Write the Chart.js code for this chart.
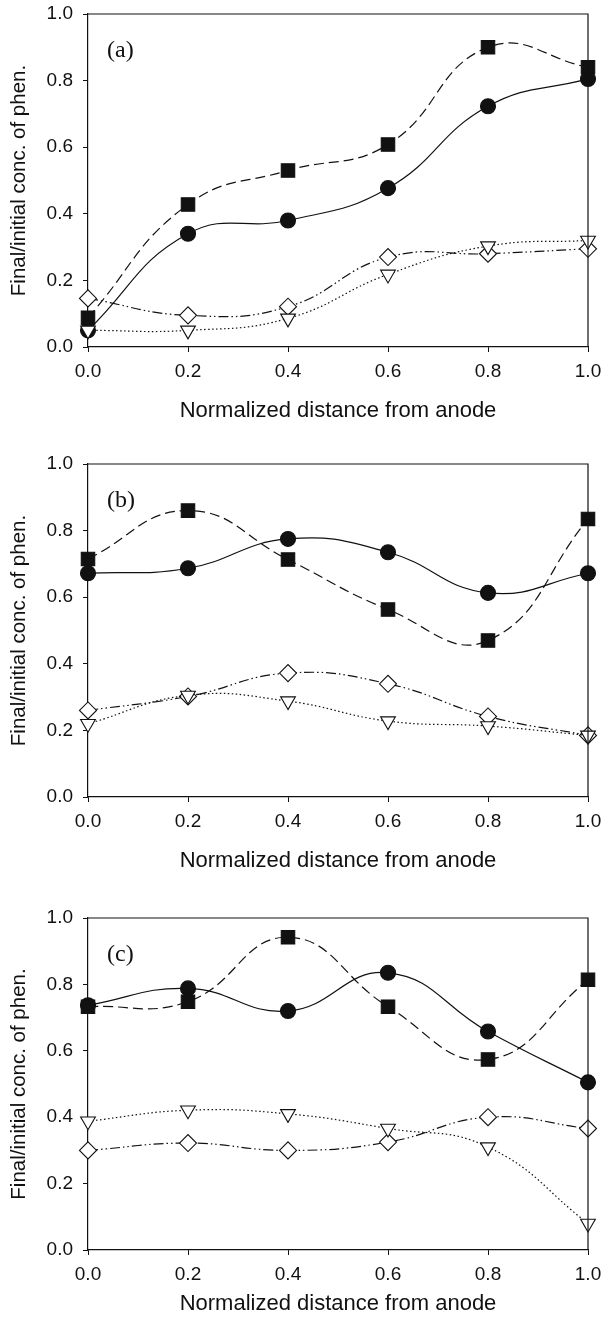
<!DOCTYPE html>
<html>
<head>
<meta charset="utf-8">
<script src="https://cdn.jsdelivr.net/npm/chart.js@4.4.0/dist/chart.umd.min.js"></script>
<style>
  body { margin: 0; background: #fff; width: 602px; height: 1326px; position: relative; overflow: hidden; }
  .panel { position: absolute; left: 0; width: 602px; }
</style>
</head>
<body>
<div class="panel" style="top:0px"><canvas id="chartA" width="602" height="440"></canvas></div>
<div class="panel" style="top:450px"><canvas id="chartB" width="602" height="440"></canvas></div>
<div class="panel" style="top:904px"><canvas id="chartC" width="602" height="422"></canvas></div>
<script>
// normalized distance from anode
const distance = [0, 0.2, 0.4, 0.6, 0.8, 1.0];
const tickValues = [0, 0.2, 0.4, 0.6, 0.8, 1.0];
const tickLabels = ['0.0', '0.2', '0.4', '0.6', '0.8', '1.0'];

// panel (a)
const circlesA   = [0.05, 0.34, 0.38, 0.477, 0.723, 0.805];
const squaresA   = [0.088, 0.428, 0.53, 0.608, 0.90, 0.84];
const diamondsA  = [0.146, 0.095, 0.121, 0.27, 0.28, 0.295];
const trianglesA = [0.05, 0.05, 0.086, 0.218, 0.303, 0.32];

// panel (b)
const circlesB   = [0.672, 0.687, 0.775, 0.735, 0.613, 0.672];
const squaresB   = [0.715, 0.86, 0.713, 0.563, 0.47, 0.835];
const diamondsB  = [0.26, 0.302, 0.372, 0.34, 0.242, 0.185];
const trianglesB = [0.22, 0.305, 0.288, 0.228, 0.213, 0.185];

// panel (c)
const circlesC   = [0.737, 0.788, 0.72, 0.835, 0.658, 0.505];
const squaresC   = [0.733, 0.748, 0.942, 0.733, 0.574, 0.814];
const diamondsC  = [0.30, 0.322, 0.30, 0.325, 0.40, 0.366];
const trianglesC = [0.388, 0.421, 0.41, 0.366, 0.31, 0.08];

const ink = '#111';

function toPoints(values){
    return values.map((v, i) => ({x: distance[i], y: v}));
}

// top + right frame and panel letter
const framePlugin = {
    id: 'frame',
    afterDraw(chart, args, opts){
        const a = chart.chartArea;
        const ctx = chart.ctx;
        ctx.save();
        ctx.strokeStyle = ink;
        ctx.lineWidth = 1.2;
        ctx.beginPath();
        ctx.moveTo(a.left, a.top);
        ctx.lineTo(a.right, a.top);
        ctx.lineTo(a.right, a.bottom);
        ctx.stroke();
        ctx.fillStyle = ink;
        ctx.font = '24px "Liberation Serif"';
        ctx.textBaseline = 'middle';
        ctx.fillText(opts.label, a.left + 19, a.top + 37);
        ctx.restore();
    }
};

function dataset(values, style, radius, fill, dash, order){
    return {
        data: toPoints(values),
        borderColor: ink,
        borderWidth: 1.2,
        borderDash: dash,
        tension: 0.45,
        pointStyle: style,
        pointRadius: radius,
        pointRotation: style === 'triangle' ? 180 : 0,
        pointBackgroundColor: fill,
        pointBorderColor: ink,
        pointBorderWidth: 1.1,
        clip: false,
        order: order
    };
}

function makePanel(id, label, circles, squares, diamonds, triangles, xAxisHeight, bottomPad){
    const config = {
        type: 'line',
        data: {
            datasets: [
                dataset(circles, 'circle', 7.5, ink, [], 3),
                dataset(squares, 'rect', 9.5, ink, [10, 5], 2),
                dataset(diamonds, 'rectRot', 8.5, '#fff', [10, 3, 1.5, 3, 1.5, 3], 1),
                dataset(triangles, 'triangle', 8.5, '#fff', [1.5, 2.5], 0)
            ]
        },
        options: {
            responsive: false,
            animation: false,
            layout: { padding: { top: 14, right: 14, left: 7, bottom: bottomPad } },
            plugins: {
                legend: { display: false },
                tooltip: { enabled: false },
                frame: { label: label }
            },
            scales: {
                x: {
                    type: 'linear',
                    min: 0, max: 1,
                    afterBuildTicks: s => { s.ticks = tickValues.map(v => ({value: v})); },
                    afterFit: s => { s.height = xAxisHeight; s.paddingLeft = 0; s.paddingRight = 0; },
                    ticks: {
                        callback: (v, i) => tickLabels[i],
                        color: ink,
                        padding: 8,
                        maxRotation: 0,
                        font: { family: '"Liberation Sans", Arial', size: 19 }
                    },
                    grid: { drawOnChartArea: false, tickLength: 5, color: ink },
                    border: { color: ink, width: 1.2 },
                    title: {
                        display: true,
                        text: 'Normalized distance from anode',
                        color: ink,
                        padding: 0,
                        font: { family: '"Liberation Sans", Arial', size: 22 }
                    }
                },
                y: {
                    min: 0, max: 1,
                    afterBuildTicks: s => { s.ticks = tickValues.map(v => ({value: v})); },
                    afterFit: s => { s.width = 81; s.paddingTop = 0; s.paddingBottom = 0; },
                    ticks: {
                        callback: (v, i) => tickLabels[i],
                        color: ink,
                        padding: 10,
                        font: { family: '"Liberation Sans", Arial', size: 19 }
                    },
                    grid: { drawOnChartArea: false, tickLength: 5, color: ink },
                    border: { color: ink, width: 1.2 },
                    title: {
                        display: true,
                        text: 'Final/initial conc. of phen.',
                        color: ink,
                        padding: 0,
                        font: { family: '"Liberation Sans", Arial', size: 20.5 }
                    }
                }
            }
        },
        plugins: [framePlugin]
    };
    new Chart(document.getElementById(id).getContext('2d'), config);
}

makePanel('chartA', '(a)', circlesA, squaresA, diamondsA, trianglesA, 77.6, 15.4);
makePanel('chartB', '(b)', circlesB, squaresB, diamondsB, trianglesB, 77.6, 15.4);
makePanel('chartC', '(c)', circlesC, squaresC, diamondsC, trianglesC, 67.6, 8.4);
</script>
</body>
</html>
